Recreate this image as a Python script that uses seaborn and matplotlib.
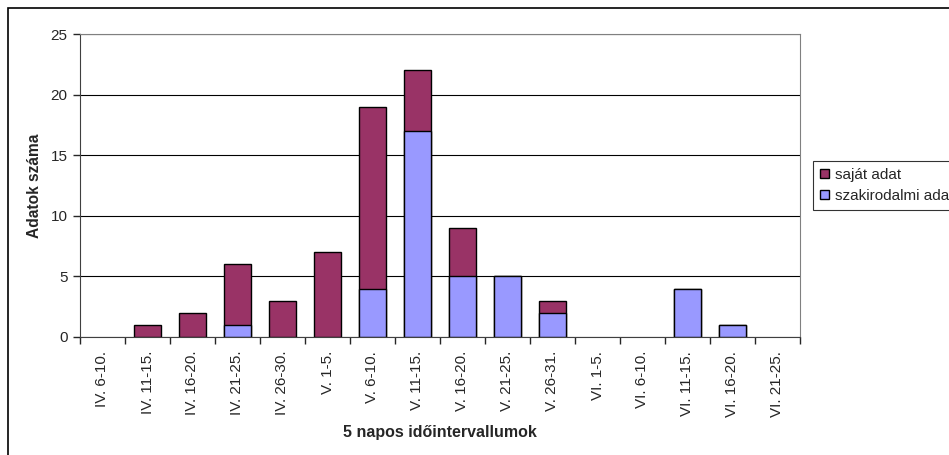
import seaborn as sns
import pandas as pd
import matplotlib.pyplot as plt
from matplotlib.patches import Rectangle, Patch

# Data
intervals = ["IV. 6-10.", "IV. 11-15.", "IV. 16-20.", "IV. 21-25.", "IV. 26-30.",
             "V. 1-5.", "V. 6-10.", "V. 11-15.", "V. 16-20.", "V. 21-25.", "V. 26-31.",
             "VI. 1-5.", "VI. 6-10.", "VI. 11-15.", "VI. 16-20.", "VI. 21-25."]
sajat = [0, 1, 2, 5, 3, 7, 15, 5, 4, 0, 1, 0, 0, 0, 0, 0]
szakirodalmi = [0, 0, 0, 1, 0, 0, 4, 17, 5, 5, 2, 0, 0, 4, 1, 0]

data = pd.DataFrame({'intervallum': intervals, 'sajat': sajat, 'szakirodalmi': szakirodalmi})
data['osszes'] = data.sajat + data.szakirodalmi

maroon = '#993366'
blue = '#9999FF'

sns.set_style('white')
plt.rcParams['font.family'] = ['Liberation Sans', 'DejaVu Sans']

fig = plt.figure(figsize=(9.49, 4.55), dpi=100)
ax = fig.add_axes([80/949, 118/455, 720/949, 303/455])

# Stacked bars: total in maroon, literature data drawn over the bottom part
sns.barplot(x='intervallum', y='osszes', data=data, color=maroon, width=0.6,
            edgecolor='black', linewidth=1, saturation=1, ax=ax)
sns.barplot(x='intervallum', y='szakirodalmi', data=data, color=blue, width=0.6,
            edgecolor='black', linewidth=1, saturation=1, ax=ax)
# empty bars should not show an outline
for p in ax.patches:
    if p.get_height() == 0:
        p.set_visible(False)

ax.set_ylim(0, 25)
ax.set_yticks(range(0, 26, 5))
ax.set_xlim(-0.5, len(intervals) - 0.5)
ax.yaxis.grid(True, color='black', linewidth=0.8)
ax.set_axisbelow(True)
for side in ['top', 'right']:
    ax.spines[side].set_color('#808080')
for side in ['left', 'bottom']:
    ax.spines[side].set_color('#404040')
ax.tick_params(axis='y', length=5, width=1, direction='out', left=True, labelsize=11, pad=4)
ax.tick_params(axis='x', length=0, labelsize=11, pad=10)
ax.set_xticks(range(len(intervals)))
ax.set_xticklabels(intervals, rotation=90)
# boundary ticks between categories, like Excel
ax.set_xticks([i - 0.5 for i in range(len(intervals) + 1)], minor=True)
ax.tick_params(axis='x', which='minor', length=5, width=1, bottom=True)

ax.set_xlabel('5 napos időintervallumok', fontsize=11.5, fontweight='bold', labelpad=6)
ax.set_ylabel('Adatok száma', fontsize=11.2, fontweight='bold', labelpad=6)

# Legend (cut off by the right edge, as in the original)
handles = [Patch(facecolor=maroon, edgecolor='black'), Patch(facecolor=blue, edgecolor='black')]
leg = fig.legend(handles, ['saját adat', 'szakirodalmi adat'], loc='upper left',
                 bbox_to_anchor=(813/949, 1 - 161/455), borderaxespad=0, fontsize=11,
                 fancybox=False, frameon=True, edgecolor='black', handlelength=0.6,
                 handleheight=0.6, handletextpad=0.4, borderpad=0.45, labelspacing=0.45)
leg.get_frame().set_linewidth(0.8)

# Outer chart border
fig.patches.append(Rectangle((8/949, -0.1), 2, 1 - 8/455 + 0.1, transform=fig.transFigure,
                             fill=False, edgecolor='black', linewidth=1.2))

fig.savefig('out.png', dpi=100)
